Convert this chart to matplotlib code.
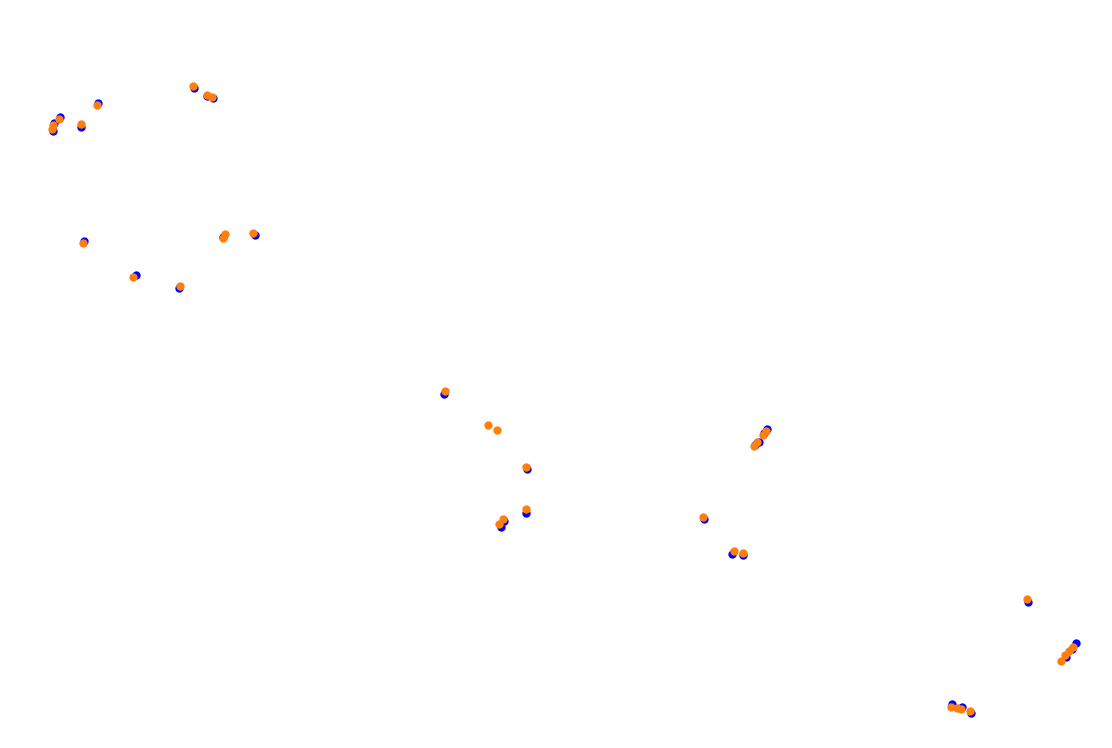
import matplotlib
matplotlib.use("Agg")
import matplotlib.pyplot as plt

# positions (x right, y down)
blue_x = [193.7, 207.0, 212.7, 98.0, 60.0, 54.0, 52.7, 80.7, 84.0, 223.0, 254.7, 136.0, 178.7,
          443.7, 527.0, 525.7, 504.0, 500.7,
          767.0, 764.3, 758.7, 755.0, 703.7, 732.3, 742.7,
          1028.0, 1075.7, 1066.3, 1072.0, 951.7, 962.0, 970.7]
blue_y = [87.7, 96.0, 98.3, 102.7, 117.3, 123.3, 131.0, 127.3, 241.0, 237.0, 235.0, 275.3, 288.3,
          394.3, 469.3, 512.7, 520.7, 526.7,
          429.0, 433.3, 441.7, 444.5, 519.3, 554.0, 555.3,
          602.0, 643.3, 657.3, 649.0, 704.0, 706.7, 713.3]

orange_x = [192.7, 206.7, 211.7, 96.7, 59.3, 53.3, 51.7, 80.7, 83.3, 222.7, 225.0, 252.7, 133.3, 180.0,
            444.7, 487.7, 496.7, 525.7, 526.0, 503.0, 499.3,
            766.0, 763.3, 757.0, 754.0, 702.7, 734.0, 743.3,
            1026.7, 1073.3, 1069.3, 1065.0, 1060.7, 950.7, 956.7, 960.7, 970.0]
orange_y = [85.7, 94.7, 97.3, 104.7, 119.3, 125.0, 129.0, 124.0, 243.3, 237.7, 234.3, 232.7, 277.0, 285.7,
            390.7, 424.7, 429.7, 467.0, 508.7, 519.0, 523.7,
            431.0, 435.3, 442.3, 445.7, 516.7, 550.7, 552.7,
            599.3, 646.7, 651.0, 655.0, 661.0, 706.7, 708.3, 709.0, 711.0]

fig = plt.figure(figsize=(11.12, 7.48), dpi=100)
ax = fig.add_axes([0, 0, 1, 1])
ax.scatter(blue_x, blue_y, s=36, color='#0000ff', linewidths=0)
ax.scatter(orange_x, orange_y, s=36, color='#ff7f0e', linewidths=0)
ax.set_xlim(0, 1112)
ax.set_ylim(748, 0)
ax.axis('off')

fig.savefig('out.png', dpi=100)
